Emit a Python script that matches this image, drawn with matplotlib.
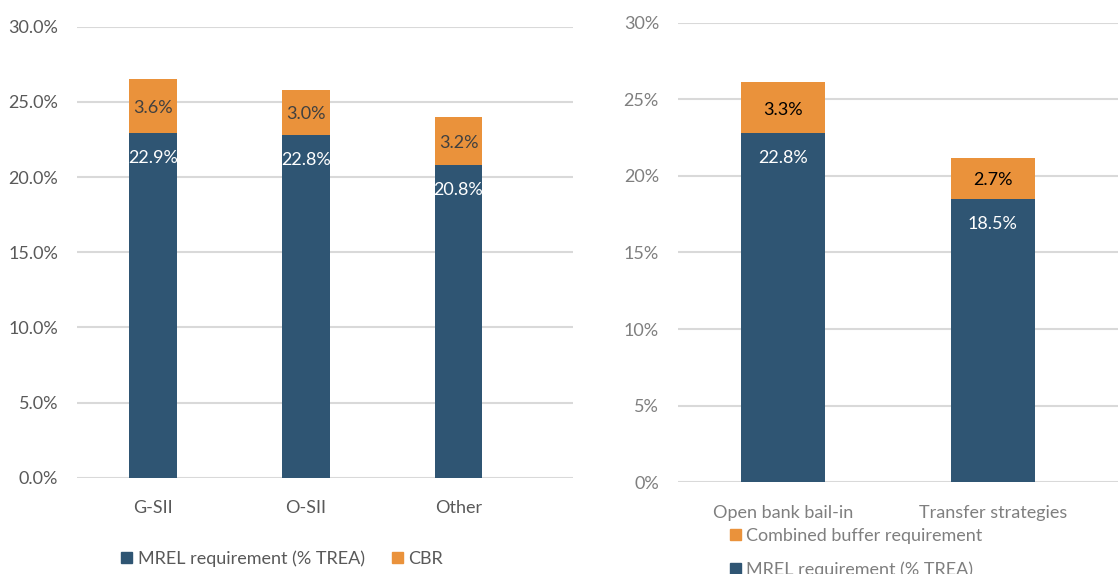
import matplotlib
matplotlib.use("Agg")
import matplotlib.pyplot as plt
from matplotlib.patches import Patch

plt.rcParams["font.family"] = ["Lato", "DejaVu Sans"]

# Left panel: by bank type
left_cats = ["G-SII", "O-SII", "Other"]
left_mrel = [22.9, 22.8, 20.8]
left_cbr = [3.6, 3.0, 3.2]
left_ticks = [0, 5, 10, 15, 20, 25, 30]

# Right panel: by resolution strategy
right_cats = ["Open bank bail-in", "Transfer strategies"]
right_mrel = [22.8, 18.5]
right_cbr = [3.3, 2.7]
right_ticks = [0, 5, 10, 15, 20, 25, 30]

BLUE = "#2F5573"
ORANGE = "#EA923B"
GRID = "#D9D9D9"
DARK = "#595959"
MID = "#7F7F7F"
FS = 13

W, H = 1118, 574
fig = plt.figure(figsize=(W / 100, H / 100), dpi=100)


def px_axes(x0, x1, y_top, y_bot):
    return fig.add_axes([x0 / W, (H - y_bot) / H, (x1 - x0) / W, (y_bot - y_top) / H])


def style(ax, ticks, fmt, tick_color):
    ax.set_ylim(0, 30)
    ax.set_yticks(ticks)
    ax.set_yticklabels([fmt.format(t) for t in ticks], color=tick_color, fontsize=FS)
    for t in ticks:
        ax.axhline(t, color=GRID, lw=1.5, zorder=0)
    for s in ax.spines.values():
        s.set_visible(False)
    ax.tick_params(axis="y", length=0, pad=13.5)
    ax.tick_params(axis="x", length=0, pad=16.3, labelsize=FS)


def draw(ax, cats, mrel, cbr, width, cbr_text_color):
    x = list(range(len(cats)))
    ax.bar(x, mrel, width=width, color=BLUE, zorder=2)
    ax.bar(x, cbr, bottom=mrel, width=width, color=ORANGE, zorder=2)
    for xi, m, c in zip(x, mrel, cbr):
        ax.annotate(f"{m:.1f}%", (xi, m), xytext=(0, -18), textcoords="offset points",
                    ha="center", va="center", color="white", fontsize=FS, zorder=3)
        ax.annotate(f"{c:.1f}%", (xi, m + c / 2), xytext=(0, -1.5), textcoords="offset points",
                    ha="center", va="center", color=cbr_text_color, fontsize=FS, zorder=3)
    ax.set_xticks(x)


# Left chart
axL = px_axes(77, 573, 26.7, 477.7)
style(axL, left_ticks, "{:.1f}%", DARK)
draw(axL, left_cats, left_mrel, left_cbr, 0.314, "#404040")
axL.set_xticklabels(left_cats, color=DARK)
axL.set_xlim(-0.5, 2.75)

fig.legend(handles=[Patch(color=BLUE, label="MREL requirement (% TREA)"),
                    Patch(color=ORANGE, label="CBR")],
           loc="center", bbox_to_anchor=(282 / W, 1 - 558.5 / H), ncol=2,
           frameon=False, fontsize=FS, labelcolor=DARK,
           handlelength=0.62, handleheight=0.62, handletextpad=0.3,
           columnspacing=1.5, borderpad=0, borderaxespad=0)

# Right chart
axR = px_axes(677.7, 1118, 22.7, 482.3)
style(axR, right_ticks, "{:d}%", MID)
draw(axR, right_cats, right_mrel, right_cbr, 0.4, "black")
axR.set_xticklabels(right_cats, color=MID)
axR.set_xlim(-0.5, 1.5 + 20.3 / 210)

fig.legend(handles=[Patch(color=ORANGE, label="Combined buffer requirement"),
                    Patch(color=BLUE, label="MREL requirement (% TREA)")],
           loc="upper left", bbox_to_anchor=(729.7 / W, 1 - 528 / H), ncol=1,
           frameon=False, fontsize=FS, labelcolor=MID,
           handlelength=0.62, handleheight=0.62, handletextpad=0.3,
           labelspacing=0.97, borderpad=0, borderaxespad=0)

fig.savefig("out.png", dpi=100)
